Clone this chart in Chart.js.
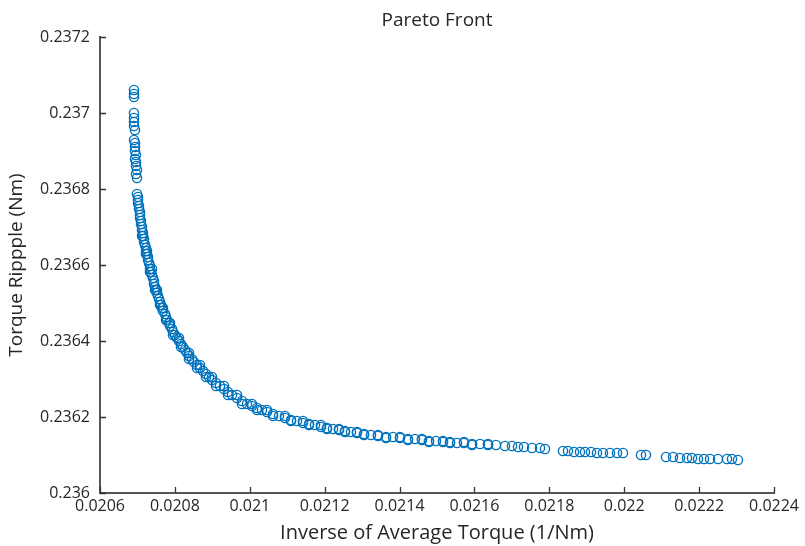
<!DOCTYPE html>
<html>
<head>
<meta charset="utf-8">
<script src="https://cdn.jsdelivr.net/npm/chart.js@4/dist/chart.umd.min.js"></script>
<style>
  html, body { margin: 0; padding: 0; background: #fff; }
  #wrap { width: 805px; height: 546px; }
</style>
</head>
<body>
<div id="wrap"><canvas id="Pareto_Chart" width="805" height="546"></canvas></div>
<script>
// Inverse of average torque (1/Nm)
var inverseAvgTorque = [
  0.0206908, 0.0206908, 0.0206908,
  0.0206908, 0.0206908, 0.0206908, 0.0206908, 0.0206935,
  0.0206908, 0.0206935, 0.0206935, 0.0206935, 0.0206961,
  0.0206935, 0.0206961, 0.0206961, 0.0206988, 0.0206961, 0.0206988,
  0.0206988, 0.0207015, 0.0207015, 0.0207015, 0.0207042, 0.0207042, 0.0207068, 0.0207068, 0.0207068, 0.0207095,
  0.0207095, 0.0207122, 0.0207122, 0.0207148, 0.0207148, 0.0207175, 0.0207175, 0.0207202, 0.0207228, 0.0207228,
  0.0207255, 0.0207282, 0.0207282, 0.0207309, 0.0207335, 0.0207335, 0.0207362, 0.0207389, 0.0207415, 0.0207442,
  0.0207442, 0.0207469, 0.0207496, 0.0207522, 0.0207549, 0.0207576, 0.0207602, 0.0207629, 0.0207656, 0.0207682,
  0.0207736, 0.0207763, 0.0207789, 0.0207843, 0.0207869, 0.0207923, 0.0207950, 0.0208003, 0.0208056, 0.0208110,
  0.0208163, 0.0208217, 0.0208270, 0.0208323, 0.0208377, 0.0208457, 0.0208510, 0.0208590, 0.0208671, 0.0208751,
  0.0208831, 0.0208911, 0.0208991, 0.0209098, 0.0209205, 0.0209312, 0.0209418, 0.0209525, 0.0209659, 0.0209792,
  0.0209926, 0.0210059, 0.0210193, 0.0210326, 0.0210460, 0.0210620, 0.0210780, 0.0210941, 0.0211101, 0.0211261,
  0.0211421, 0.0211582, 0.0211742, 0.0211902, 0.0212062, 0.0212223, 0.0212383, 0.0212543, 0.0212703, 0.0212863,
  0.0213050, 0.0213237, 0.0213424, 0.0213638, 0.0213825, 0.0214012, 0.0214225, 0.0214412, 0.0214599, 0.0214786,
  0.0214973, 0.0215160, 0.0215347, 0.0215534, 0.0215721, 0.0215935, 0.0216148, 0.0216362, 0.0216576, 0.0216816,
  0.0217003, 0.0217163, 0.0217323, 0.0217537, 0.0217751, 0.0217884,
  0.0218365, 0.0218498, 0.0218659, 0.0218819, 0.0218952, 0.0219113, 0.0219273, 0.0219433, 0.0219620, 0.0219807,
  0.0219967, 0.0220448, 0.0220582, 0.0221116, 0.0221303, 0.0221489, 0.0221676, 0.0221810, 0.0221970, 0.0222130,
  0.0222291, 0.0222504, 0.0222745, 0.0222878, 0.0223038,
  // second row of the knee (slightly above / right)
  0.0207255, 0.0207389, 0.0207522, 0.0207682, 0.0207869, 0.0208110, 0.0208377, 0.0208671, 0.0208991, 0.0209312,
  0.0209659, 0.0210059, 0.0210460, 0.0210941, 0.0211421, 0.0211902, 0.0212383, 0.0212863, 0.0213424, 0.0214012,
  0.0214599, 0.0215160, 0.0215721, 0.0216362,
  // third row of the knee (slightly below / left)
  0.0207122, 0.0207228, 0.0207335, 0.0207469, 0.0207602, 0.0207763, 0.0207950, 0.0208163, 0.0208377, 0.0208590,
  0.0208831, 0.0209098, 0.0209418, 0.0209792, 0.0210193, 0.0210620, 0.0211101, 0.0211582, 0.0212062, 0.0212543,
  0.0213050, 0.0213638, 0.0214225, 0.0214786, 0.0215347, 0.0215935
];

// Torque ripple (Nm), same order
var torqueRipple = [
  0.2370605, 0.2370500, 0.2370421,
  0.2370000, 0.2369868, 0.2369763, 0.2369658, 0.2369553,
  0.2369289, 0.2369211, 0.2369105, 0.2369000, 0.2368895,
  0.2368789, 0.2368711, 0.2368605, 0.2368500, 0.2368395, 0.2368289,
  0.2367868, 0.2367789, 0.2367711, 0.2367632, 0.2367553, 0.2367474, 0.2367395, 0.2367316, 0.2367237, 0.2367158,
  0.2367079, 0.2367000, 0.2366921, 0.2366842, 0.2366763, 0.2366684, 0.2366605, 0.2366526, 0.2366447, 0.2366368,
  0.2366289, 0.2366211, 0.2366132, 0.2366053, 0.2365974, 0.2365895, 0.2365816, 0.2365737, 0.2365658, 0.2365579,
  0.2365500, 0.2365421, 0.2365342, 0.2365263, 0.2365184, 0.2365105, 0.2365026, 0.2364947, 0.2364868, 0.2364789,
  0.2364711, 0.2364632, 0.2364553, 0.2364474, 0.2364395, 0.2364316, 0.2364237, 0.2364158, 0.2364079, 0.2364000,
  0.2363921, 0.2363842, 0.2363763, 0.2363684, 0.2363605, 0.2363526, 0.2363447, 0.2363368, 0.2363289, 0.2363211,
  0.2363132, 0.2363053, 0.2362974, 0.2362895, 0.2362816, 0.2362737, 0.2362658, 0.2362579, 0.2362500, 0.2362421,
  0.2362342, 0.2362289, 0.2362237, 0.2362184, 0.2362132, 0.2362079, 0.2362026, 0.2361974, 0.2361921, 0.2361895,
  0.2361842, 0.2361816, 0.2361789, 0.2361737, 0.2361711, 0.2361684, 0.2361658, 0.2361632, 0.2361605, 0.2361579,
  0.2361553, 0.2361526, 0.2361500, 0.2361474, 0.2361474, 0.2361447, 0.2361421, 0.2361421, 0.2361395, 0.2361368,
  0.2361368, 0.2361342, 0.2361342, 0.2361316, 0.2361316, 0.2361289, 0.2361289, 0.2361263, 0.2361263, 0.2361237,
  0.2361237, 0.2361211, 0.2361211, 0.2361184, 0.2361184, 0.2361158,
  0.2361105, 0.2361105, 0.2361079, 0.2361079, 0.2361079, 0.2361079, 0.2361053, 0.2361053, 0.2361053, 0.2361053,
  0.2361053, 0.2361000, 0.2361000, 0.2360947, 0.2360947, 0.2360921, 0.2360921, 0.2360921, 0.2360895, 0.2360895,
  0.2360895, 0.2360895, 0.2360895, 0.2360895, 0.2360868,
  0.2366368, 0.2365895, 0.2365342, 0.2364868, 0.2364474, 0.2364079, 0.2363684, 0.2363368, 0.2363053, 0.2362816,
  0.2362579, 0.2362342, 0.2362184, 0.2362026, 0.2361895, 0.2361789, 0.2361684, 0.2361605, 0.2361526, 0.2361474,
  0.2361421, 0.2361368, 0.2361342, 0.2361289,
  0.2366763, 0.2366289, 0.2365816, 0.2365342, 0.2364947, 0.2364553, 0.2364158, 0.2363842, 0.2363526, 0.2363289,
  0.2363053, 0.2362816, 0.2362579, 0.2362342, 0.2362184, 0.2362026, 0.2361895, 0.2361789, 0.2361684, 0.2361605,
  0.2361526, 0.2361447, 0.2361395, 0.2361342, 0.2361316, 0.2361263
];

var xTicks = [0.0206, 0.0208, 0.0210, 0.0212, 0.0214, 0.0216, 0.0218, 0.0220, 0.0222, 0.0224];
var xTickLabels = ["0.0206", "0.0208", "0.021", "0.0212", "0.0214", "0.0216", "0.0218", "0.022", "0.0222", "0.0224"];
var yTicks = [0.2360, 0.2362, 0.2364, 0.2366, 0.2368, 0.2370, 0.2372];
var yTickLabels = ["0.236", "0.2362", "0.2364", "0.2366", "0.2368", "0.237", "0.2372"];

var chartTitle = "Pareto Front";
var xTitle = "Inverse of Average Torque (1/Nm)";
var yTitle = "Torque Rippple (Nm)";

var FONT = "'Open Sans', 'Noto Sans', sans-serif";
var TEXT = '#262626';
var AXIS = '#555555';

var points = inverseAvgTorque.map(function (x, i) {
    return { x: x, y: torqueRipple[i] };
});

// matlab style: ticks pointing into the plot, title over the plot area
var matlabBits = {
    id: 'matlabBits',
    afterDraw: function (chart) {
        var ctx = chart.ctx;
        var area = chart.chartArea;
        var xs = chart.scales.x, ys = chart.scales.y;
        ctx.save();
        ctx.strokeStyle = '#333333';
        ctx.lineWidth = 1.3;
        ctx.beginPath();
        xs.ticks.forEach(function (t, i) {
            var px = Math.round(xs.getPixelForTick(i)) + 0.5;
            ctx.moveTo(px, area.bottom);
            ctx.lineTo(px, area.bottom - 6);
        });
        ys.ticks.forEach(function (t, i) {
            var py = Math.round(ys.getPixelForTick(i)) + 0.5;
            ctx.moveTo(area.left, py);
            ctx.lineTo(area.left + 6, py);
        });
        ctx.stroke();
        ctx.fillStyle = TEXT;
        ctx.font = "19px " + FONT;
        ctx.textAlign = 'center';
        ctx.textBaseline = 'middle';
        ctx.fillText(chartTitle, (area.left + area.right) / 2, 21);
        ctx.restore();
    }
};

new Chart(document.getElementById("Pareto_Chart").getContext("2d"), {
    type: 'scatter',
    data: {
        datasets: [{
            label: "Pareto",
            data: points,
            borderColor: 'rgba(0, 114, 189, 1)',
            backgroundColor: 'rgba(0, 0, 0, 0)',
            pointRadius: 4.6,
            pointBorderWidth: 1.4,
            pointHoverRadius: 4.6
        }]
    },
    options: {
        responsive: false,
        animation: false,
        devicePixelRatio: 1,
        layout: { padding: { top: 37, right: 31, left: 0, bottom: 0 } },
        plugins: {
            legend: { display: false },
            tooltip: { enabled: false },
            title: { display: false }
        },
        scales: {
            x: {
                type: 'linear',
                min: 0.0206,
                max: 0.0224,
                afterBuildTicks: function (scale) {
                    scale.ticks = xTicks.map(function (v) { return { value: v }; });
                },
                afterFit: function (scale) { scale.height = 53; },
                ticks: {
                    color: TEXT,
                    font: { family: FONT, size: 16 },
                    padding: 4,
                    maxRotation: 0,
                    autoSkip: false,
                    callback: function (v, i) { return xTickLabels[i]; }
                },
                grid: { display: true, drawOnChartArea: false, drawTicks: false },
                border: { display: true, color: AXIS, width: 2 },
                title: {
                    display: true,
                    text: xTitle,
                    color: TEXT,
                    font: { family: FONT, size: 20 },
                    padding: { top: 0, bottom: 1 }
                }
            },
            y: {
                type: 'linear',
                min: 0.236,
                max: 0.2372,
                afterBuildTicks: function (scale) {
                    scale.ticks = yTicks.map(function (v) { return { value: v }; });
                },
                afterFit: function (scale) { scale.width = 100; },
                ticks: {
                    color: TEXT,
                    font: { family: FONT, size: 16 },
                    padding: 10,
                    autoSkip: false,
                    callback: function (v, i) { return yTickLabels[i]; }
                },
                grid: { display: true, drawOnChartArea: false, drawTicks: false },
                border: { display: true, color: AXIS, width: 2 },
                title: {
                    display: true,
                    text: yTitle,
                    color: TEXT,
                    font: { family: FONT, size: 19 },
                    padding: { top: 5, bottom: 0 }
                }
            }
        }
    },
    plugins: [matlabBits]
});
</script>
</body>
</html>
